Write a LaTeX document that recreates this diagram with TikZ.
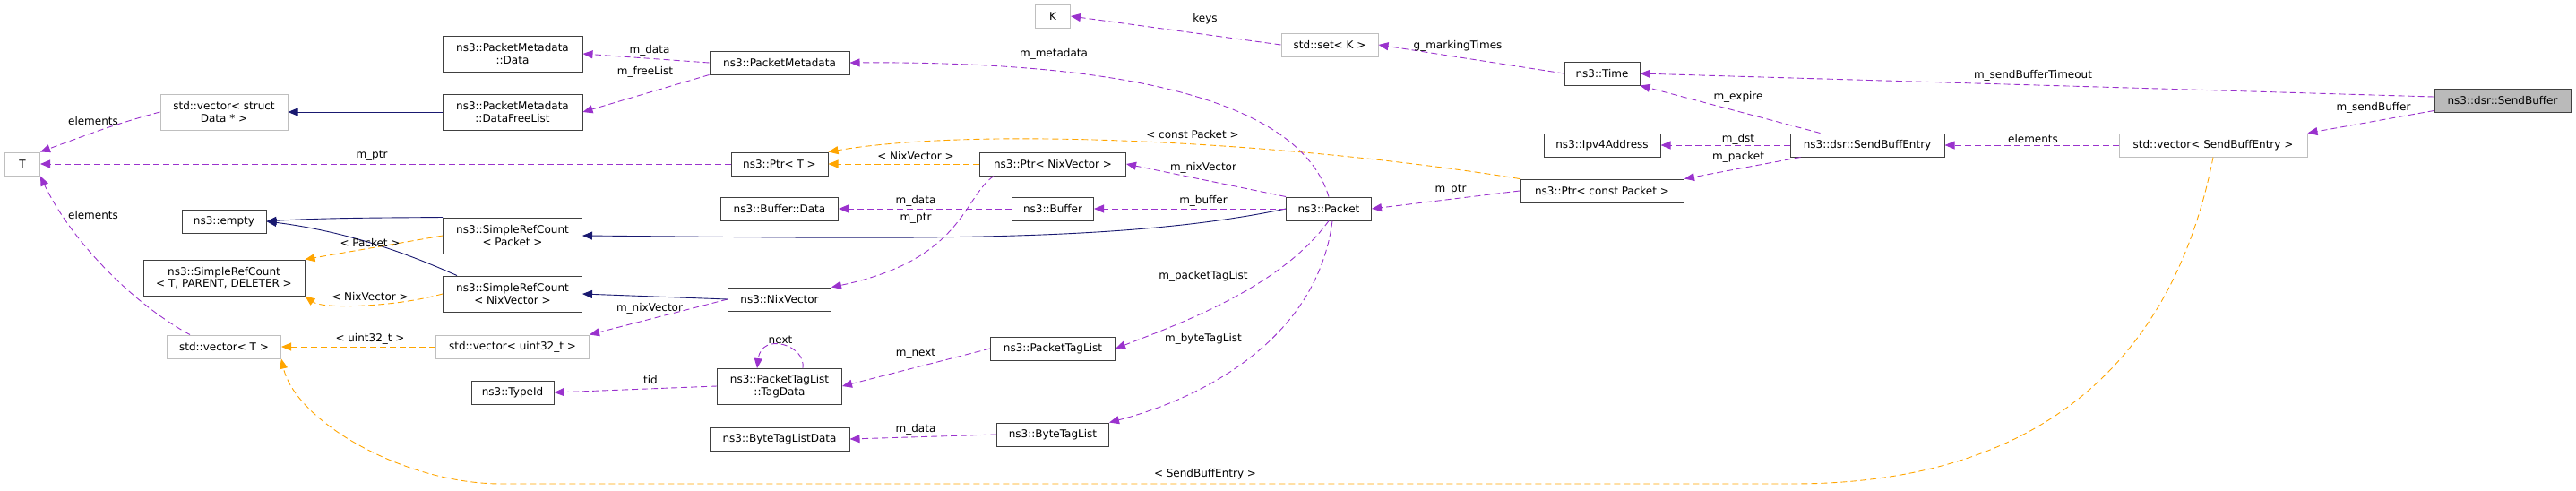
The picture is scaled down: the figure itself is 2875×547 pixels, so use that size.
\documentclass[tikz,border=0pt]{standalone}
\usepackage{fontspec}
\setmainfont{DejaVu Sans}
\usetikzlibrary{arrows.meta}
\definecolor{pur}{HTML}{9A32CD}
\definecolor{ora}{HTML}{FFA500}
\definecolor{nav}{HTML}{191970}
\begin{document}
\begin{tikzpicture}[x=1pt,y=-1pt,
  every node/.style={font=\fontsize{12}{13.5}\selectfont},
  box/.style={draw=black!75,line width=1pt,minimum height=26,inner sep=2,align=center,fill=white},
  gbox/.style={box,draw=black!25},
  two/.style={minimum height=40},
  lab/.style={inner sep=1,fill=none,draw=none},
  pe/.style={-{Triangle[length=11,width=9,fill=pur]},draw=pur,line width=0.9pt,dash pattern=on 7 off 4},
  oe/.style={-{Triangle[length=11,width=9,fill=ora]},draw=ora,line width=0.9pt,dash pattern=on 7 off 4},
  ne/.style={-{Triangle[length=11,width=9,fill=nav]},draw=nav,line width=0.9pt}]
\useasboundingbox (0,0) rectangle (2875,547);
% nodes
\node[gbox,minimum width=39] (T) at (25,183) {T};
\node[gbox,two,minimum width=142] (svd) at (250,125) {std::vector< struct\\Data * >};
\node[box,two,minimum width=156] (pmd) at (572,60) {ns3::PacketMetadata\\::Data};
\node[box,two,minimum width=156] (dfl) at (572,125) {ns3::PacketMetadata\\::DataFreeList};
\node[box,minimum width=94] (empty) at (250,247) {ns3::empty};
\node[box,two,minimum width=180] (srcT) at (250,310) {ns3::SimpleRefCount\\< T, PARENT, DELETER >};
\node[box,two,minimum width=155] (srcP) at (572,263) {ns3::SimpleRefCount\\< Packet >};
\node[box,two,minimum width=155] (srcN) at (572,328) {ns3::SimpleRefCount\\< NixVector >};
\node[gbox,minimum width=127] (vecT) at (250,387) {std::vector< T >};
\node[gbox,minimum width=171] (vu) at (572,387) {std::vector< uint32\_t >};
\node[box,minimum width=92] (tid) at (572,438) {ns3::TypeId};
\node[gbox,minimum width=39] (K) at (1175,18) {K};
\node[gbox,minimum width=108] (set) at (1484,50) {std::set< K >};
\node[box,minimum width=156] (pm) at (870,70) {ns3::PacketMetadata};
\node[box,minimum width=108] (ptrT) at (870,183) {ns3::Ptr< T >};
\node[box,minimum width=163] (ptrN) at (1175,183) {ns3::Ptr< NixVector >};
\node[box,minimum width=131] (bd) at (870,233) {ns3::Buffer::Data};
\node[box,minimum width=91] (buf) at (1175,233) {ns3::Buffer};
\node[box,minimum width=115] (nix) at (870,334) {ns3::NixVector};
\node[box,minimum width=139] (ptl) at (1175,389) {ns3::PacketTagList};
\node[box,two,minimum width=139] (td) at (870,431) {ns3::PacketTagList\\::TagData};
\node[box,minimum width=125] (btl) at (1175,485) {ns3::ByteTagList};
\node[box,minimum width=156] (btld) at (870,490) {ns3::ByteTagListData};
\node[box,minimum width=95] (pkt) at (1483,233) {ns3::Packet};
\node[box,minimum width=84] (time) at (1788,82) {ns3::Time};
\node[box,minimum width=130] (ipv4) at (1788,162) {ns3::Ipv4Address};
\node[box,minimum width=172] (sbe) at (2084,162) {ns3::dsr::SendBuffEntry};
\node[box,minimum width=183] (pcp) at (1788,213) {ns3::Ptr< const Packet >};
\node[box,fill=black!27,minimum width=152] (sb) at (2793,112) {ns3::dsr::SendBuffer};
\node[gbox,minimum width=210] (vse) at (2470,162) {std::vector< SendBuffEntry >};
\coordinate (tdA) at (896,411);
\coordinate (tdB) at (845,411);
% edges
\draw[pe] (svd.west) to[out=195,in=20] (T.north east);
\node[lab] at (104,135) {elements};
\draw[pe] (ptrT.west) -- (T.east);
\node[lab] at (415,174) {m\_ptr};
\draw[pe] (vecT.north west) ++(26,0) .. controls (150,340) and (80,270) .. (T.south east);
\node[lab] at (104,240) {elements};
\draw[ne] (dfl.west) -- (svd.east);
\draw[pe] (pm.west) -- (pmd.east);
\node[lab] at (725,56) {m\_data};
\draw[pe] (pm.south west) -- (dfl.east);
\node[lab] at (720,80) {m\_freeList};
\draw[ne] (srcP.north west) .. controls (440,243) and (360,243) .. (empty.east);
\draw[ne] (srcN.north west) ++(16,0) .. controls (470,290) and (400,260) .. (empty.east);
\draw[oe] (srcP.west) -- (srcT.north east);
\node[lab] at (413,271) {< Packet >};
\draw[oe] (srcN.west) .. controls (440,343) and (360,345) .. (srcT.south east);
\node[lab] at (413,331) {< NixVector >};
\draw[oe] (vu.west) -- (vecT.east);
\node[lab] at (413,378) {< uint32\_t >};
\draw[pe] (td.west) -- (tid.east);
\node[lab] at (726,424) {tid};
\draw[pe] (nix.west) -- (vu.north east);
\node[lab] at (725,344) {m\_nixVector};
\draw[ne] (nix.west) -- (srcN.east);
\draw[ne] (pkt.west) .. controls (1250,272) and (1000,266) .. (srcP.east);
\draw[oe] (ptrN.west) -- (ptrT.east);
\node[lab] at (1022,174) {< NixVector >};
\draw[oe] (pcp.north west) .. controls (1450,160) and (1100,140) .. (ptrT.north east);
\node[lab] at (1331,150) {< const Packet >};
\draw[pe] (ptrN.south west) ++(16,0) .. controls (1075,220) and (1075,290) .. (nix.north east);
\node[lab] at (1022,244) {m\_ptr};
\draw[pe] (buf.west) -- (bd.east);
\node[lab] at (1022,224) {m\_data};
\draw[pe] (pkt.west) -- (buf.east);
\node[lab] at (1343,224) {m\_buffer};
\draw[pe] (pkt.north west) -- (ptrN.east);
\node[lab] at (1343,187) {m\_nixVector};
\draw[pe] (pkt.north) .. controls (1450,110) and (1250,68) .. (pm.east);
\node[lab] at (1176,60) {m\_metadata};
\draw[pe] (pkt.south) .. controls (1430,320) and (1320,360) .. (ptl.east);
\node[lab] at (1343,308) {m\_packetTagList};
\draw[pe] (pkt.south) ++(4,0) .. controls (1470,380) and (1340,445) .. (btl.north east);
\node[lab] at (1343,378) {m\_byteTagList};
\draw[pe] (ptl.west) -- (td.east);
\node[lab] at (1022,395) {m\_next};
\draw[pe] (tdA) .. controls (900,385) and (850,370) .. (tdB);
\node[lab] at (871,379) {next};
\draw[pe] (btl.west) -- (btld.east);
\node[lab] at (1022,479) {m\_data};
\draw[pe] (set.west) -- (K.east);
\node[lab] at (1345,21) {keys};
\draw[pe] (time.west) -- (set.east);
\node[lab] at (1627,51) {g\_markingTimes};
\draw[pe] (pcp.west) -- (pkt.east);
\node[lab] at (1619,212) {m\_ptr};
\draw[pe] (sbe.north west) ++(34,0) -- (time.south east);
\node[lab] at (1940,108) {m\_expire};
\draw[pe] (sbe.west) -- (ipv4.east);
\node[lab] at (1940,155) {m\_dst};
\draw[pe] (sbe.south west) ++(12,0) -- (pcp.north east);
\node[lab] at (1940,175) {m\_packet};
\draw[pe] (vse.west) -- (sbe.east);
\node[lab] at (2269,155) {elements};
\draw[pe] (sb.west) ++(0,-4) -- (time.east);
\node[lab] at (2269,84) {m\_sendBufferTimeout};
\draw[pe] (sb.south west) ++(0,-2) -- (vse.north east);
\node[lab] at (2649,120) {m\_sendBuffer};
\draw[oe] (vse.south) .. controls (2430,380) and (2300,540) .. (2000,540) -- (560,540) .. controls (450,540) and (330,470) .. (vecT.south east);
\node[lab] at (1345,529) {< SendBuffEntry >};
\end{tikzpicture}
\end{document}
